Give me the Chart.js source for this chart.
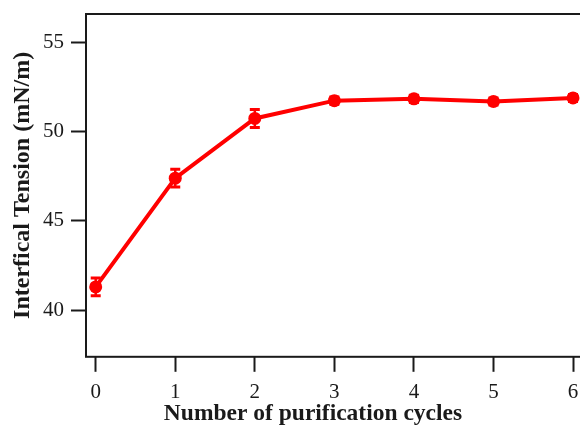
<!DOCTYPE html>
<html>
<head>
<meta charset="utf-8">
<style>
  html, body { margin: 0; padding: 0; background: #fff; overflow: hidden; }
  #tensionChart { display: block; }
</style>
</head>
<body>
<canvas id="tensionChart" width="640" height="429"></canvas>

<script src="https://cdn.jsdelivr.net/npm/chart.js"></script>

<script>
// purification cycles and measured interfacial tension (mN/m)
const cycles = [0, 1, 2, 3, 4, 5, 6];
const tension = [41.3, 47.4, 50.75, 51.75, 51.85, 51.7, 51.9];
const tensionErr = [0.5, 0.5, 0.5, 0.2, 0.2, 0.2, 0.2];

const xTitle = 'Number of purification cycles';
const yTitle = 'Interfical Tension (mN/m)';

const RED = '#ff0000';
const INK = '#1a1a1a';

// error bars drawn under the line, through the chart's own scales
const errorBars = {
  id: 'errorBars',
  beforeDatasetsDraw(chart) {
    const ctx = chart.ctx;
    const xs = chart.scales.x, ys = chart.scales.y;
    ctx.save();
    ctx.strokeStyle = RED;
    cycles.forEach((c, i) => {
      const px = xs.getPixelForValue(c);
      const top = ys.getPixelForValue(tension[i] + tensionErr[i]);
      const bot = ys.getPixelForValue(tension[i] - tensionErr[i]);
      ctx.lineWidth = 2.5;
      ctx.beginPath();
      ctx.moveTo(px, top);
      ctx.lineTo(px, bot);
      ctx.stroke();
      ctx.lineWidth = 3;
      ctx.beginPath();
      ctx.moveTo(px - 5, top);
      ctx.lineTo(px + 5, top);
      ctx.moveTo(px - 5, bot);
      ctx.lineTo(px + 5, bot);
      ctx.stroke();
    });
    ctx.restore();
  }
};

// box round the plot area
const frame = {
  id: 'frame',
  afterDraw(chart) {
    const {left, top, right, bottom} = chart.chartArea;
    const ctx = chart.ctx;
    ctx.save();
    ctx.strokeStyle = INK;
    ctx.lineWidth = 2;
    ctx.strokeRect(left, top, right - left, bottom - top);
    ctx.restore();
  }
};

const ctx = document.getElementById('tensionChart').getContext('2d');

new Chart(ctx, {
  type: 'scatter',
  data: {
    datasets: [{
      data: cycles.map((c, i) => ({x: c, y: tension[i]})),
      showLine: true,
      borderColor: RED,
      backgroundColor: RED,
      borderWidth: 4,
      pointRadius: 6.5,
      pointHoverRadius: 6.5,
      pointBorderWidth: 0,
      tension: 0
    }]
  },
  options: {
    responsive: false,
    animation: false,
    layout: { padding: { top: 14, left: 0, right: 14, bottom: 0 } },
    plugins: {
      legend: { display: false },
      tooltip: { enabled: false },
      title: {
        display: true,
        position: 'bottom',
        text: xTitle,
        color: INK,
        font: { family: 'Liberation Serif', size: 23.5, weight: 'bold' },
        padding: { top: 0, bottom: 1 }
      }
    },
    scales: {
      x: {
        type: 'linear',
        min: -0.122,
        max: 6.666,
        afterFit(scale) {
          scale.height = 43;
          scale.paddingLeft = 0;
          scale.paddingRight = 0;
        },
        border: { display: false },
        grid: {
          drawOnChartArea: false,
          tickLength: 15,
          tickWidth: 2,
          tickColor: INK
        },
        ticks: {
          stepSize: 1,
          includeBounds: false,
          color: INK,
          padding: 8,
          font: { family: 'Liberation Serif', size: 21 }
        }
      },
      y: {
        min: 37.38,
        max: 56.61,
        afterFit(scale) {
          scale.width = 86;
          scale.paddingTop = 0;
          scale.paddingBottom = 0;
        },
        border: { display: false },
        grid: {
          drawOnChartArea: false,
          tickLength: 15,
          tickWidth: 2,
          tickColor: INK
        },
        ticks: {
          stepSize: 5,
          includeBounds: false,
          color: INK,
          padding: 7,
          font: { family: 'Liberation Serif', size: 21 }
        },
        title: {
          display: true,
          text: yTitle,
          color: INK,
          font: { family: 'Liberation Serif', size: 24, weight: 'bold' },
          padding: { top: 8, bottom: 0 }
        }
      }
    }
  },
  plugins: [errorBars, frame]
});
</script>
</body>
</html>
